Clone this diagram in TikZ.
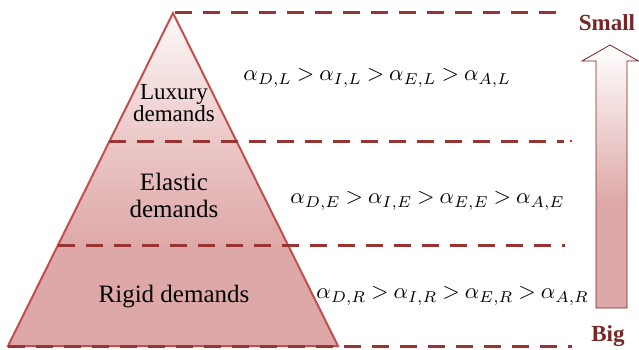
\documentclass[tikz,border=0pt]{standalone}
\usepackage{fontspec}
\setmainfont{Liberation Serif}
\usetikzlibrary{calc}
\definecolor{edgeR}{RGB}{192,80,77}
\definecolor{dashR}{RGB}{152,52,50}
\definecolor{txtR}{RGB}{120,38,38}
\definecolor{pinkA}{RGB}{222,168,168}
\definecolor{pinkB}{RGB}{236,200,200}
\definecolor{pinkW}{RGB}{253,248,248}
\pgfdeclareverticalshading{pyrshade}{100bp}{color(0bp)=(pinkA); color(25bp)=(pinkA); color(40bp)=(pinkA); color(56bp)=(pinkB); color(75bp)=(pinkW); color(100bp)=(pinkW)}
\pgfdeclareverticalshading{arrshade}{100bp}{color(0bp)=(pinkA); color(25bp)=(pinkA); color(45bp)=(pinkA); color(75bp)=(white); color(100bp)=(white)}
\tikzset{
  dashline/.style={draw=dashR, line width=3pt, dash pattern=on 17pt off 11pt},
  lvltext/.style={align=center, text=black, inner sep=0pt},
  formula/.style={anchor=west, inner sep=0pt, scale=2.25},
  endlabel/.style={text=txtR, font=\fontsize{23}{23}\selectfont\bfseries, inner sep=0pt}
}
\newcommand{\fml}[1]{$\thickmuskip=4mu #1$}
\begin{document}
\begin{tikzpicture}[x=1pt,y=-1pt]
\useasboundingbox (0,0) rectangle (639,350);
% pyramid geometry
\coordinate (apex) at (173,13);
\coordinate (bl) at (8,346);
\coordinate (br) at (338,346);
\coordinate (l1) at (109.4,141);
\coordinate (r1) at (236.6,141);
\coordinate (l2) at (57.7,245);
\coordinate (r2) at (288.3,245);
\coordinate (e0) at (565,13);
\coordinate (e1) at (564,141);
\coordinate (e2) at (565,245);
\coordinate (e3) at (572,346);
\shade[shading=pyrshade] (apex) -- (br) -- (bl) -- cycle;
\draw[edgeR, line width=2pt, line join=miter] (apex) -- (br) -- (bl) -- cycle;
% dashed levels
\draw[dashline] (175,13) -- (e0);
\draw[dashline] (l1) -- (e1);
\fill[dashR] (571,141) circle (1.3pt);
\draw[dashline] (l2) -- (e2);
\draw[dashline] (bl) -- (e3);
% texts
\node[lvltext, font=\fontsize{23}{22}\selectfont] (lux) at (174,103) {Luxury\\demands};
\node[lvltext, font=\fontsize{25}{27}\selectfont] (ela) at (174,195) {Elastic\\demands};
\node[lvltext, font=\fontsize{25}{25}\selectfont] (rig) at (174,297) {Rigid demands};
\node[formula] (fL) at (243,78) {\fml{\alpha_{D,L} > \alpha_{I,L} > \alpha_{E,L} > \alpha_{A,L}}};
\node[formula] (fE) at (290,201) {\fml{\alpha_{D,E} > \alpha_{I,E} > \alpha_{E,E} > \alpha_{A,E}}};
\node[formula] (fR) at (316,296) {\fml{\alpha_{D,R} > \alpha_{I,R} > \alpha_{E,R} > \alpha_{A,R}}};
% arrow
\shade[shading=arrshade, draw=txtR, line width=0.8pt] (596,308) -- (596,61) -- (582,61) -- (610,45) -- (638.5,61) -- (627,61) -- (627,308) -- cycle;
\node[endlabel] (small) at (607,23) {Small};
\node[endlabel] (big) at (608,336) {Big};
\end{tikzpicture}
\end{document}
